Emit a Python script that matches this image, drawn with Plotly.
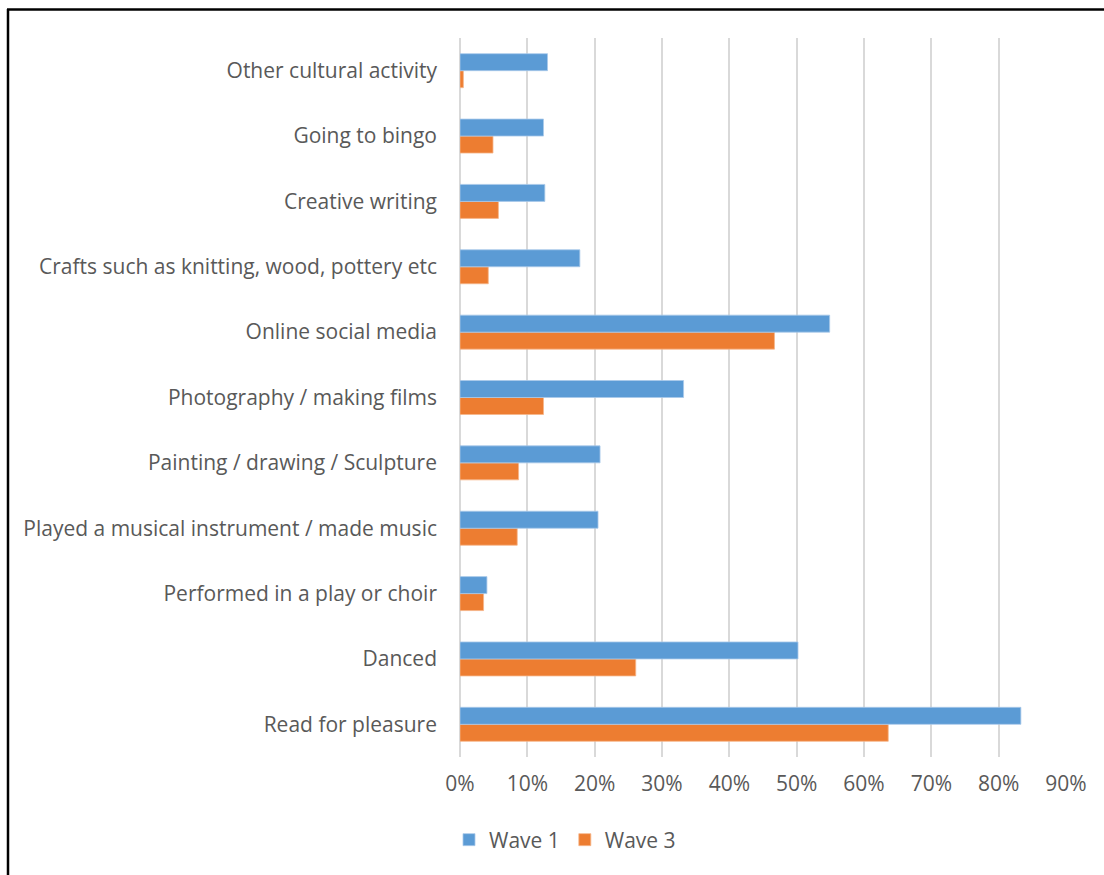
import plotly.graph_objects as go

# Activities, listed bottom to top as drawn on the category axis
activities = [
    "Read for pleasure",
    "Danced",
    "Performed in a play or choir",
    "Played a musical instrument / made music",
    "Painting / drawing / Sculpture",
    "Photography / making films",
    "Online social media",
    "Crafts such as knitting, wood, pottery etc",
    "Creative writing",
    "Going to bingo",
    "Other cultural activity",
]

# Share of respondents taking part (%)
wave1 = [83.3, 50.2, 4.0, 20.5, 20.8, 33.2, 54.9, 17.8, 12.6, 12.4, 13.0]
wave3 = [63.6, 26.1, 3.5, 8.5, 8.7, 12.4, 46.7, 4.2, 5.7, 4.9, 0.5]

x_ticks = [0, 10, 20, 30, 40, 50, 60, 70, 80, 90]
x_tick_labels = ["0%", "10%", "20%", "30%", "40%", "50%", "60%", "70%", "80%", "90%"]

BLUE = "#5B9BD5"
ORANGE = "#ED7D31"
TEXT = "#595959"
GRID = "#D9D9D9"
FONT = "Open Sans, Liberation Sans, sans-serif"

fig = go.Figure()
# Wave 3 added first so that Wave 1 sits above it inside each group
fig.add_trace(go.Bar(
    y=activities, x=wave3, name="Wave 3", orientation="h",
    marker=dict(color=ORANGE, line=dict(color="#F6B68A", width=0.8)),
    legendrank=2,
))
fig.add_trace(go.Bar(
    y=activities, x=wave1, name="Wave 1", orientation="h",
    marker=dict(color=BLUE, line=dict(color="#A9C9EA", width=0.8)),
    legendrank=1,
))

W, H = 1104, 875
L, R, T, B = 460, 38, 38, 118
pw, ph = W - L - R, H - T - B

def px_x(p):
    return (p - L) / pw

def px_y(p):
    return (H - B - p) / ph

fig.update_layout(
    width=W, height=H,
    margin=dict(l=L, r=R, t=T, b=B),
    paper_bgcolor="white", plot_bgcolor="white",
    barmode="group", bargap=0.48, bargroupgap=0,
    font=dict(family=FONT, size=21, color=TEXT),
    showlegend=True,
    legend=dict(
        orientation="h", x=px_x(565), xanchor="center",
        y=px_y(840), yanchor="middle",
        font=dict(size=21, color=TEXT),
        itemwidth=30, traceorder="normal",
    ),
    xaxis=dict(
        range=[0, 90], tickmode="array", tickvals=x_ticks, ticktext=x_tick_labels,
        showgrid=True, gridcolor=GRID, gridwidth=1.6,
        zeroline=True, zerolinecolor=GRID, zerolinewidth=1.6,
        showline=False, ticks="", ticklabelstandoff=12,
        tickfont=dict(size=21, color=TEXT), fixedrange=True,
    ),
    yaxis=dict(
        categoryorder="array", categoryarray=activities,
        showgrid=False, showline=False, ticks="",
        ticklabelstandoff=22, tickfont=dict(size=21, color=TEXT),
        fixedrange=True,
    ),
    shapes=[
        dict(type="line", xref="paper", yref="paper",
             x0=px_x(8), x1=px_x(8), y0=px_y(9), y1=px_y(875),
             line=dict(color="black", width=2.5)),
        dict(type="line", xref="paper", yref="paper",
             x0=px_x(7), x1=px_x(1104), y0=px_y(9.5), y1=px_y(9.5),
             line=dict(color="black", width=2.5)),
    ],
)

fig.write_html("out.html")
